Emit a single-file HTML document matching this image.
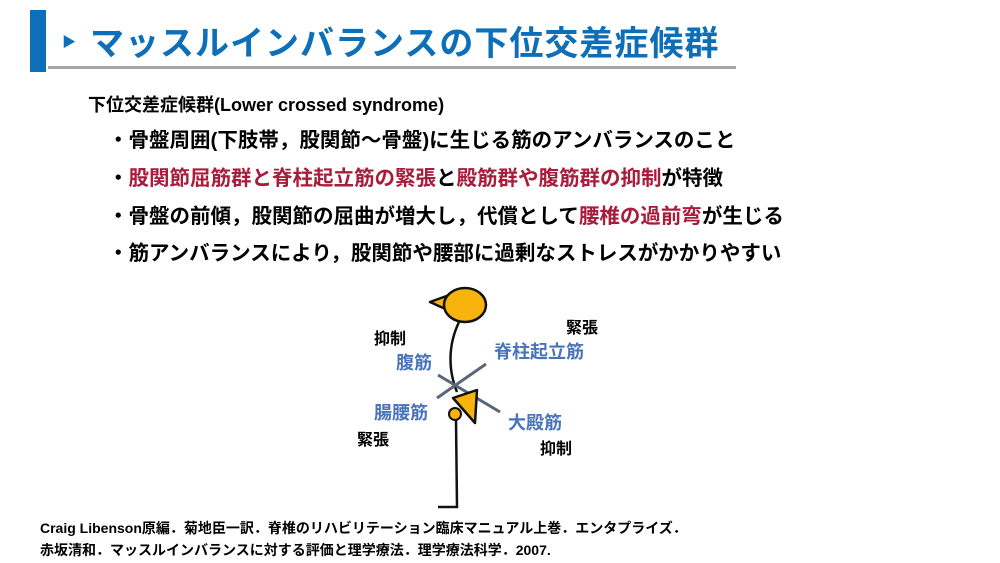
<!DOCTYPE html>
<html><head><meta charset="utf-8"><style>
body{margin:0;width:1000px;height:563px;background:#fff;position:relative;overflow:hidden;font-family:"Liberation Sans","Noto Sans CJK JP",sans-serif;font-weight:bold}
.a{position:absolute;white-space:nowrap}
.r{color:#a81c3c}
.b{color:#4a74b8}
</style></head><body>
<div class="a" style="left:30px;top:10px;width:16px;height:62px;background:#0d6fb8"></div>
<div class="a" style="left:62px;top:32px;font-size:14px;color:#0d6fb8">▶</div>
<div class="a" style="left:90px;top:16px;font-size:34px;color:#0d6fb8;letter-spacing:1px">マッスルインバランスの下位交差症候群</div>
<div class="a" style="left:48px;top:66px;width:688px;height:3px;background:#a6a6a6"></div>
<div class="a" style="left:88px;top:91px;font-size:18px">下位交差症候群(Lower crossed syndrome)</div>
<div class="a" style="left:108px;top:123px;font-size:20.5px">・骨盤周囲(下肢帯，股関節～骨盤)に生じる筋のアンバランスのこと</div>
<div class="a" style="left:108px;top:161px;font-size:20.5px">・<span class="r">股関節屈筋群と脊柱起立筋の緊張</span>と<span class="r">殿筋群や腹筋群の抑制</span>が特徴</div>
<div class="a" style="left:108px;top:199px;font-size:20.5px">・骨盤の前傾，股関節の屈曲が増大し，代償として<span class="r">腰椎の過前弯</span>が生じる</div>
<div class="a" style="left:108px;top:236px;font-size:20.5px">・筋アンバランスにより，股関節や腰部に過剰なストレスがかかりやすい</div>
<svg class="a" style="left:0;top:0" width="1000" height="563">
<polygon points="430,302 452,294 452,312" fill="#f8b30c" stroke="#111" stroke-width="2.5" stroke-linejoin="round"/>
<ellipse cx="465" cy="305" rx="21" ry="17" fill="#f8b30c" stroke="#111" stroke-width="2.5"/>
<path d="M459,322 C448,345 448,370 457,392" fill="none" stroke="#111" stroke-width="2.5"/>
<line x1="437" y1="398" x2="486" y2="364" stroke="#5a6778" stroke-width="3"/>
<line x1="438" y1="375" x2="500" y2="412" stroke="#5a6778" stroke-width="3"/>
<polygon points="453,398 477,390 475,423" fill="#f8b30c" stroke="#111" stroke-width="2.5" stroke-linejoin="round"/>
<circle cx="455" cy="414" r="6" fill="#f8b30c" stroke="#111" stroke-width="2"/>
<polyline points="456,420 457,507 438,507" fill="none" stroke="#111" stroke-width="2.5"/>
</svg>
<div class="a" style="left:374px;top:325px;font-size:16px">抑制</div>
<div class="a" style="left:566px;top:314px;font-size:16px">緊張</div>
<div class="a b" style="left:494px;top:338px;font-size:18px">脊柱起立筋</div>
<div class="a b" style="left:396px;top:349px;font-size:18px">腹筋</div>
<div class="a b" style="left:374px;top:399px;font-size:18px">腸腰筋</div>
<div class="a b" style="left:508px;top:409px;font-size:18px">大殿筋</div>
<div class="a" style="left:357px;top:426px;font-size:16px">緊張</div>
<div class="a" style="left:540px;top:435px;font-size:16px">抑制</div>
<div class="a" style="left:40px;top:518px;font-size:14px">Craig Libenson原編．菊地臣一訳．脊椎のリハビリテーション臨床マニュアル上巻．エンタプライズ．</div>
<div class="a" style="left:40px;top:540px;font-size:14px">赤坂清和．マッスルインバランスに対する評価と理学療法．理学療法科学．2007.</div>
</body></html>
